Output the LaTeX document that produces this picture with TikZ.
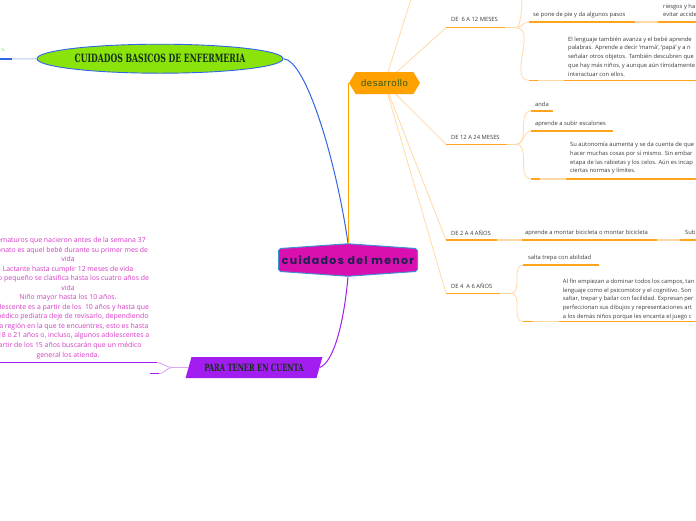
\documentclass[tikz,border=0pt]{standalone}
\usepackage{fontspec}
\setmainfont{Open Sans}
\newfontfamily\hubfont{Poppins}[LetterSpace=12]
\newfontfamily\devfont{Liberation Sans}[LetterSpace=6]
\newfontfamily\slabfont{DejaVu Serif}[FakeStretch=0.68]
\usetikzlibrary{positioning,calc,shapes.geometric,shapes.symbols,backgrounds}

\definecolor{hubpink}{HTML}{D90FAF}
\definecolor{hubedge}{HTML}{3F8FD8}
\definecolor{hubtext}{HTML}{1C2350}
\definecolor{devorange}{HTML}{FFA200}
\definecolor{devtext}{HTML}{2D5A14}
\definecolor{limegreen}{HTML}{8AE30B}
\definecolor{linkblue}{HTML}{3165E8}
\definecolor{linkbluelt}{HTML}{B8C8F6}
\definecolor{notepurple}{HTML}{A11DF0}
\definecolor{purplelt}{HTML}{D9A8F8}
\definecolor{slabtext}{HTML}{16301A}
\definecolor{pinktext}{HTML}{D63AC6}
\definecolor{leafgray}{HTML}{3A3A3A}
\definecolor{ulinedk}{HTML}{FFA41C}
\definecolor{ulinelt}{HTML}{FFD9A6}
\definecolor{notegreen}{HTML}{7DE07D}

\begin{document}
\begin{tikzpicture}[
  x=1pt, y=-1pt,
  hubbox/.style={signal, signal to=north and south, signal pointer angle=172, fill=hubpink, draw=hubedge, line width=1pt, rounded corners=2pt, minimum width=139pt, minimum height=32pt, inner sep=0pt, font={\hubfont\fontsize{11}{13}\selectfont\bfseries}, text=hubtext},
  devbox/.style={signal, signal to=east and west, signal pointer angle=118, fill=devorange, minimum width=71pt, minimum height=22pt, inner sep=0pt, font={\devfont\fontsize{9.5}{11}\selectfont}, text=devtext},
  basicbox/.style={ellipse, fill=limegreen, draw=linkblue, line width=0.9pt, minimum width=246pt, minimum height=29pt, inner sep=0pt, font={\slabfont\fontsize{11.4}{13}\selectfont\bfseries}, text=slabtext},
  notebox/.style={trapezium, trapezium left angle=58, trapezium right angle=122, trapezium stretches=true, fill=notepurple, minimum width=137pt, minimum height=21pt, inner sep=0pt, font={\slabfont\fontsize{10}{12}\selectfont\bfseries}, text=slabtext},
  leaf/.style={anchor=west, align=left, inner sep=0pt, font=\fontsize{5.8}{8.7}\selectfont, text=leafgray},
  uline/.style={draw=ulinedk, line width=1.3pt},
  fadeline/.style={draw=ulinelt, line width=1.3pt},
  branch/.style={draw=ulinelt, line width=0.8pt}
]
\useasboundingbox (0,0) rectangle (696,520);
\clip (0,0) rectangle (696,520);

% main topics
\node[hubbox] (menor) at (348,260) {cuidados del menor};
\node[devbox] (desarrollo) at (384.5,83) {desarrollo};
\node[basicbox] (basicos) at (160,58.7) {CUIDADOS BASICOS DE ENFERMERIA};
\node[notebox] (cuenta) at (254,367.5) {PARA TENER EN CUENTA};

% age groups
\node[leaf] (m612) at (451,19.3) {DE \ 6 A 12 MESES};
\node[leaf] (m1224) at (451,137.7) {DE 12 A 24 MESES};
\node[leaf] (a24) at (451,232.7) {DE 2 A 4 AÑOS};
\node[leaf] (a46) at (451,286) {DE 4 \ A 6 AÑOS};

% leaves
\node[leaf] (pie) at (533,15) {se pone de pie y da algunos pasos};
\node[leaf] (riesgos) at (663,10.2) {riesgos y ha\\evitar accide};
\node[leaf] (lenguaje) at (568,56.5) {El lenguaje también avanza y el bebé aprende\\palabras. Aprende a decir ‘mamá’, ‘papá’ y a n\\señalar otros objetos. También descubren que\\que hay más niños, y aunque aún tímidamente\\interactuar con ellos.};
\node[leaf] (anda) at (535,104) {anda};
\node[leaf] (escalones) at (535,124) {aprende a subir escalones};
\node[leaf] (autonomia) at (570,158.4) {Su autonomía aumenta y se da cuenta de que\\hacer muchas cosas por sí mismo. Sin embar\\etapa de las rabietas y los celos. Aún es incap\\ciertas normas y límites.};
\node[leaf] (bici) at (525,232.7) {aprende a montar bicicleta o montar bicicleta};
\node[leaf] (subi) at (685,232.7) {Subi};
\node[leaf] (salta) at (528,257.7) {salta trepa con abilidad};
\node[leaf] (campos) at (562.7,299.3) {Al fin empiezan a dominar todos los campos, tan\\lenguaje como el psicomotor y el cognitivo. Son\\saltar, trepar y bailar con facilidad. Expresan per\\perfeccionan sus dibujos y representaciones art\\a los demás niños porque les encanta el juego c};

% left notes
\node[align=center, inner sep=0pt, font=\fontsize{6.9}{9.55}\selectfont, text=pinktext] (edades) at (68,298) {Prematuros que nacieron antes de la semana 37\\Neonato es aquel bebé durante su primer mes de\\vida\\Lactante hasta cumplir 12 meses de vida\\Niño pequeño se clasifica hasta los cuatro años de\\vida\\Niño mayor hasta los 10 años.\\Adolescente es a partir de los \ 10 años y hasta que\\el médico pediatra deje de revisarlo, dependiendo\\de la región en la que te encuentres, esto es hasta\\los 18 o 21 años o, incluso, algunos adolescentes a\\partir de los 15 años buscarán que un médico\\general los atienda.};
\node[inner sep=0pt, font=\fontsize{5.8}{7}\selectfont, text=notegreen] (nota) at (3.5,50) {s.};

% junctions
\coordinate (up0) at (412,-4);
\coordinate (u612) at (446,27.7);
\coordinate (u1224) at (446,144.3);
\coordinate (u24) at (446,240);
\coordinate (u46) at (446,293.3);
\coordinate (j612) at (516,27.7);
\coordinate (j1224) at (516,144.3);
\coordinate (j46) at (511,293.3);
\coordinate (up612) at (522,-4);
\coordinate (bl) at (12,59);
\coordinate (jp) at (172,367.5);
\coordinate (pu) at (157,362.7);
\coordinate (pd) at (159,373.7);

\begin{scope}[on background layer]
% links to the centre
\draw[linkblue, line width=1pt] (basicos.east) .. controls (306,60) and (336,160) .. (menor.north);
\draw[devorange, line width=1.3pt] (desarrollo.west) -- (desarrollo.west |- menor.north);
\draw[notepurple, line width=1pt] (menor.south) .. controls (344,322) and (334,362) .. (cuenta.east);

% desarrollo branches
\foreach \tgt in {up0, u612, u1224, u24, u46}
  \draw[branch] (desarrollo.center) -- (\tgt);

% underlines
\foreach \xa/\xb/\yy in {446/505/27.7, 529/635/22, 658/700/22, 529/538/80.3, 564/700/80.3,
                         446/507/144.3, 531/553/111, 531/613/131, 531/540/179, 566/700/179,
                         446/497/240, 522/657/240, 680/700/240,
                         446/500/293.3, 523/599/265, 523/533/321.7, 559/700/321.7}
  \draw[uline] (\xa,\yy) -- (\xb,\yy);
\foreach \xa/\xb/\yy in {505/516/27.7, 635/658/22, 538/564/80.3,
                         507/516/144.3, 540/566/179,
                         497/522/240, 657/680/240,
                         500/511/293.3, 533/559/321.7}
  \draw[fadeline] (\xa,\yy) -- (\xb,\yy);

% junction curves
\draw[branch] (j612) .. controls +(5,0) and +(0,10) .. (up612);
\draw[branch] (j612) to[out=0, in=180] (529,22);
\draw[branch] (j612) to[out=0, in=180] (529,80.3);
\draw[branch] (j1224) to[out=0, in=180] (531,111);
\draw[branch] (j1224) to[out=0, in=180] (531,131);
\draw[branch] (j1224) to[out=0, in=180] (531,179);
\draw[branch] (j46) to[out=0, in=180] (523,265);
\draw[branch] (j46) to[out=0, in=180] (523,321.7);

% left side
\draw[linkblue, line width=1.3pt] (-2,59) -- (bl);
\draw[linkbluelt, line width=1pt] (bl) -- (basicos.west);
\draw[purplelt, line width=0.9pt] (cuenta.west) -- (jp);
\draw[purplelt, line width=0.9pt] (jp) to[out=180, in=0] (pu);
\draw[purplelt, line width=0.9pt] (jp) to[out=180, in=0] (pd);
\draw[notepurple, line width=1.3pt] (-2,362.7) -- (pu);
\draw[notepurple, line width=1.3pt] (150,373.7) -- (pd);
\end{scope}
\end{tikzpicture}
\end{document}
